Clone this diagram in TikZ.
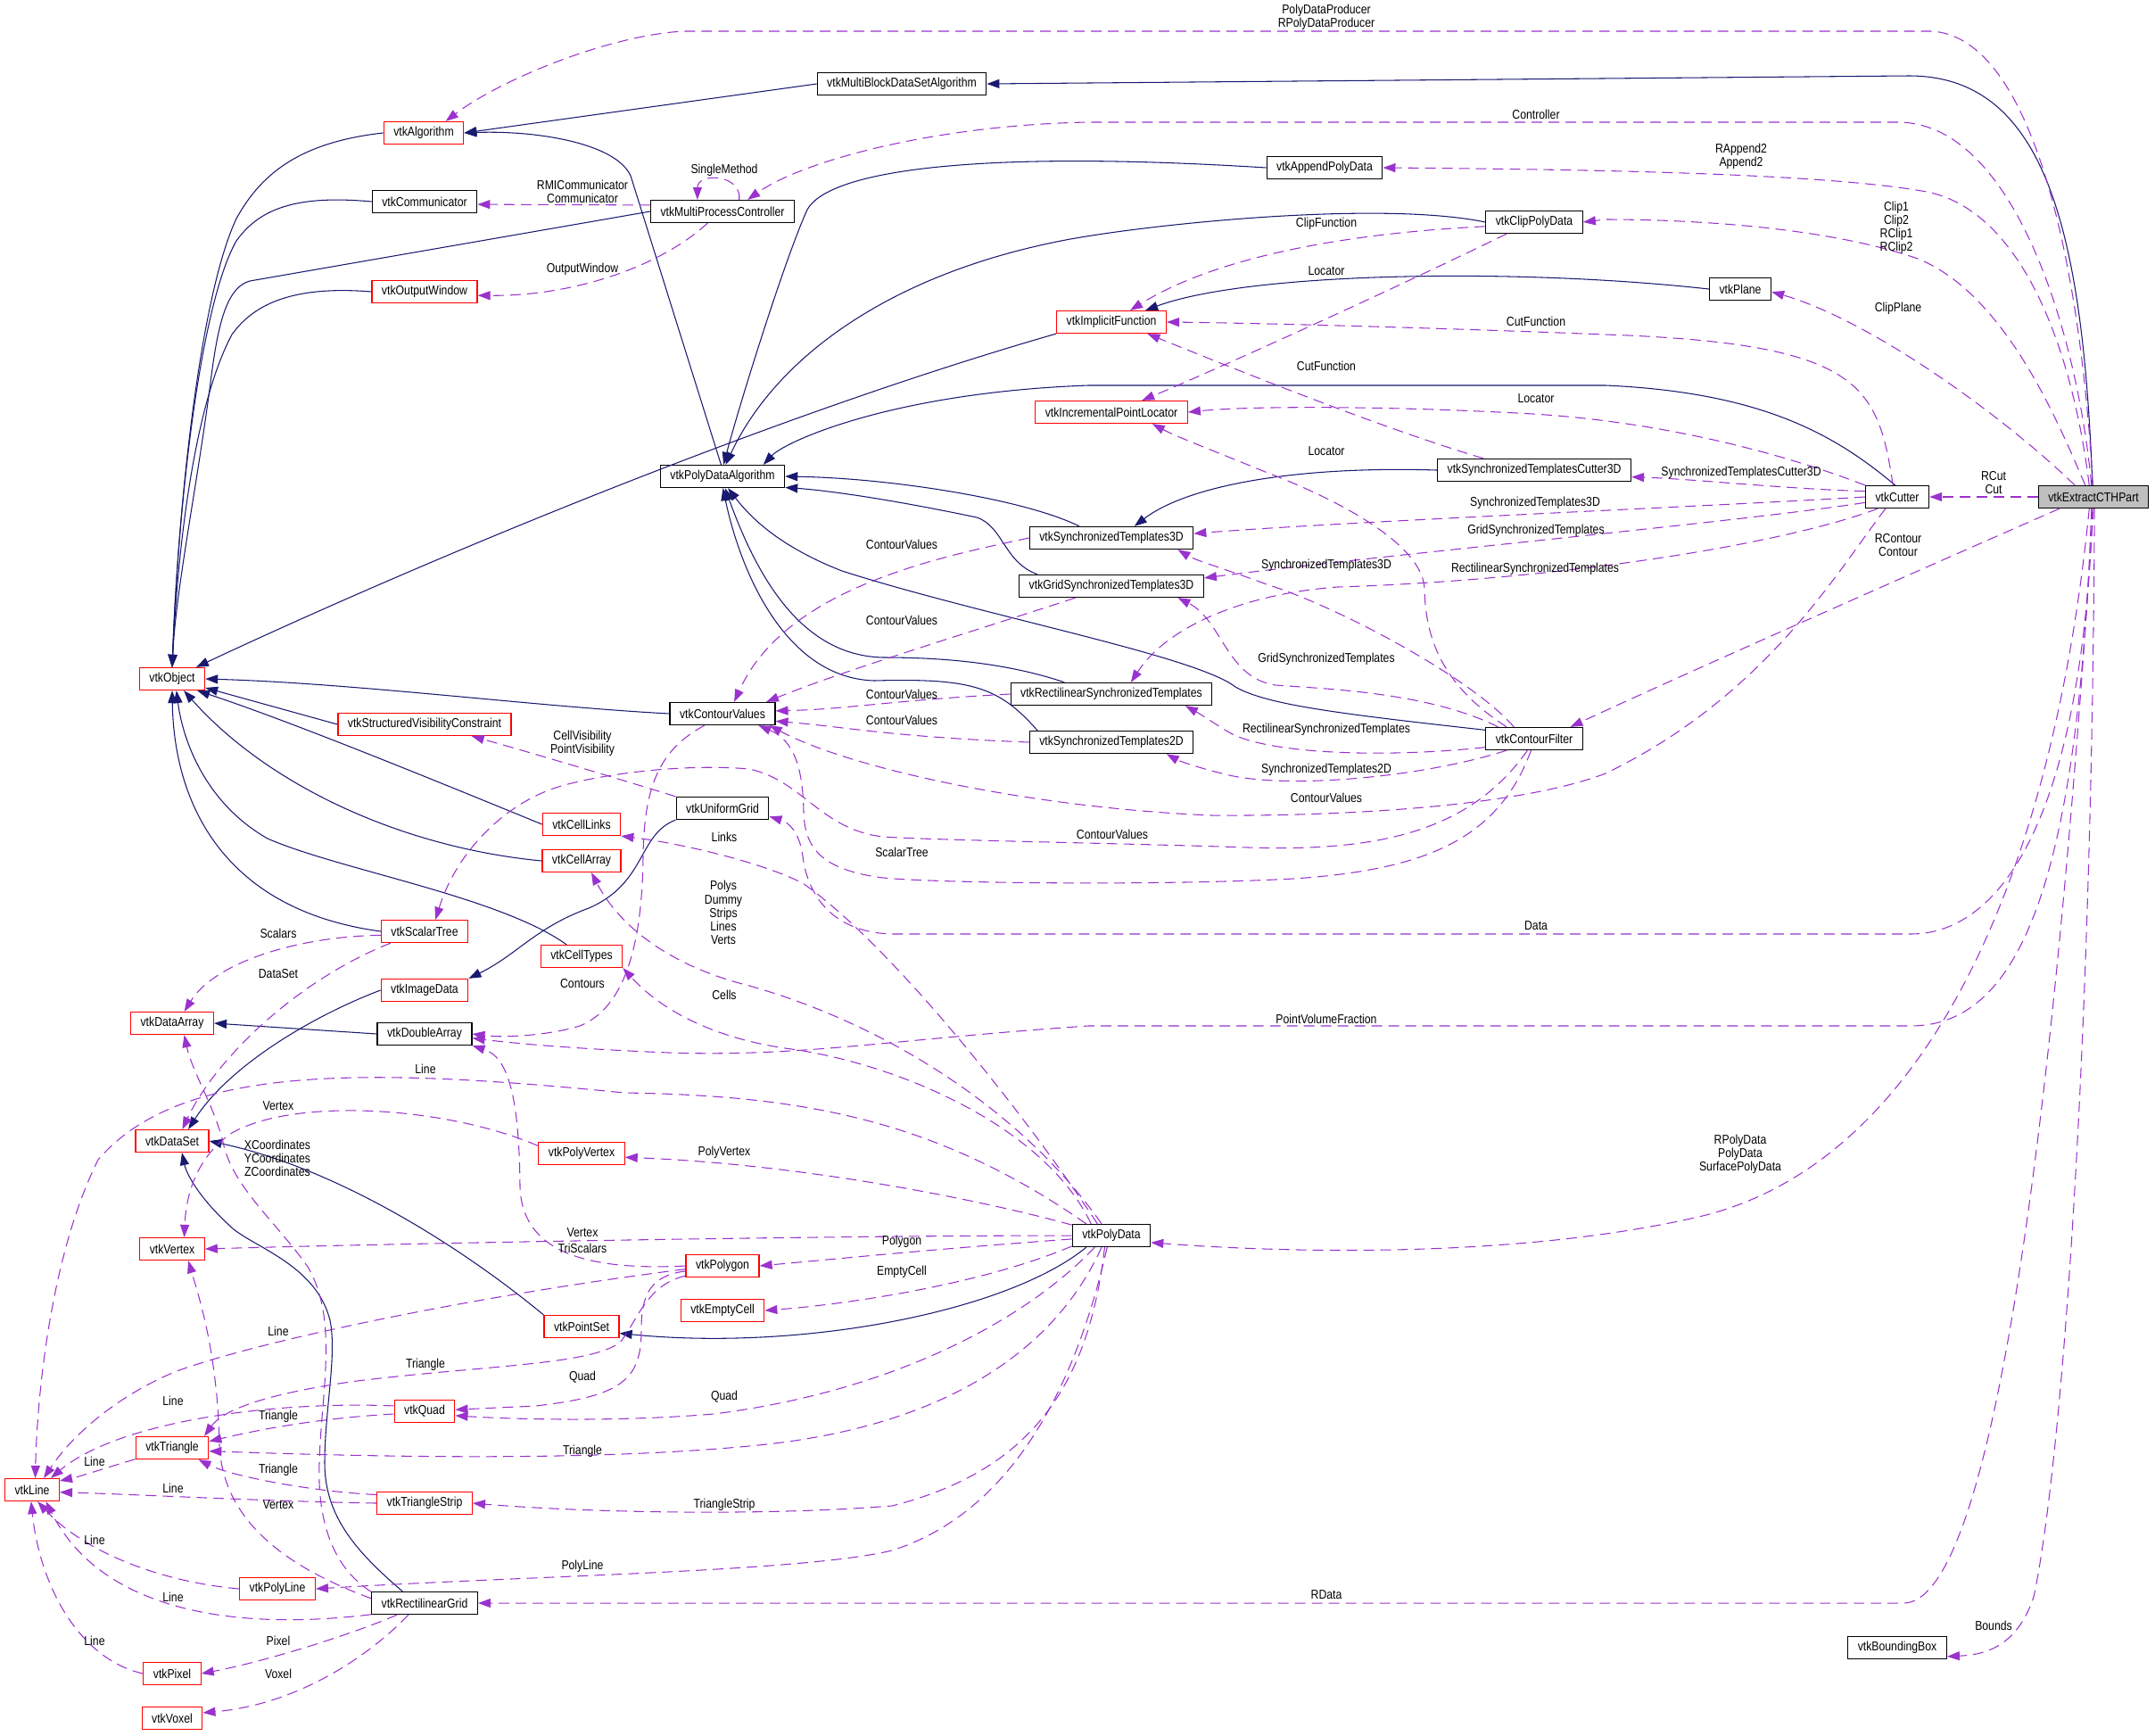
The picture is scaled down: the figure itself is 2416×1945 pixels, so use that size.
\documentclass[tikz,border=0pt]{standalone}
\usepackage{fontspec}
\setmainfont[FakeStretch=0.85]{Liberation Sans}
\usepackage{tikz}
\usetikzlibrary{arrows.meta}
\definecolor{inhblue}{HTML}{191970}
\definecolor{deppurple}{HTML}{9A32CD}
\definecolor{undoc}{HTML}{FF0000}
\definecolor{mainfill}{HTML}{BFBFBF}

\begin{document}
\begin{tikzpicture}[x=0.01cm,y=-0.01cm,every node/.style={font=\fontsize{4.1}{4.3}\selectfont}]
      \tikzstyle{cls} =[draw=black,line width=0.35pt,rectangle,minimum height=0.25cm,
                      inner xsep=0.11cm,inner ysep=0pt,fill=white];
      \tikzstyle{clsr}=[cls,draw=undoc];
      \tikzstyle{lbl} =[inner sep=0pt,align=center];
      \tikzstyle{inh} =[draw=inhblue,line width=0.3pt,-{Triangle[length=0.14cm,width=0.1cm]}];
      \tikzstyle{dep} =[draw=deppurple,line width=0.3pt,dash pattern=on 3.4pt off 2pt,
                      -{Triangle[length=0.14cm,width=0.1cm]}];
      \useasboundingbox (0,0) rectangle (2416,1945);

      \node[clsr] (alg)   at (475,149)  {vtkAlgorithm};
      \node[cls]  (mbdsa) at (1011,94)  {vtkMultiBlockDataSetAlgorithm};
      \node[cls]  (comm)  at (476,226)  {vtkCommunicator};
      \node[cls]  (mpc)   at (810,237)  {vtkMultiProcessController};
      \node[clsr] (ow)    at (476,327)  {vtkOutputWindow};
      \node[cls]  (apd)   at (1485,188) {vtkAppendPolyData};
      \node[cls]  (cpd)   at (1720,249) {vtkClipPolyData};
      \node[cls]  (plane) at (1951,324) {vtkPlane};
      \node[clsr] (impf)  at (1246,361) {vtkImplicitFunction};
      \node[clsr] (ipl)   at (1246,462) {vtkIncrementalPointLocator};
      \node[cls]  (pda)   at (810,534)  {vtkPolyDataAlgorithm};
      \node[cls]  (stc3d) at (1720,527) {vtkSynchronizedTemplatesCutter3D};
      \node[cls]  (cutter) at (2127,557) {vtkCutter};
      \node[cls,fill=mainfill] (cth) at (2347,557) {vtkExtractCTHPart};
      \node[cls]  (st3d)  at (1246,603) {vtkSynchronizedTemplates3D};
      \node[cls]  (gst3d) at (1246,657) {vtkGridSynchronizedTemplates3D};
      \node[cls]  (rst)   at (1246,778) {vtkRectilinearSynchronizedTemplates};
      \node[cls]  (st2d)  at (1246,832) {vtkSynchronizedTemplates2D};
      \node[cls]  (cv)    at (810,800)  {vtkContourValues};
      \node[cls]  (cf)    at (1720,828) {vtkContourFilter};
      \node[clsr] (obj)   at (193,761)  {vtkObject};
      \node[clsr] (svc)   at (476,812)  {vtkStructuredVisibilityConstraint};
      \node[cls]  (ug)    at (810,906)  {vtkUniformGrid};
      \node[clsr] (cl)    at (652,924)  {vtkCellLinks};
      \node[clsr] (ca)    at (652,965)  {vtkCellArray};
      \node[clsr] (sct)   at (476,1044) {vtkScalarTree};
      \node[clsr] (ctp)   at (652,1072) {vtkCellTypes};
      \node[clsr] (imd)   at (476,1110) {vtkImageData};
      \node[clsr] (darr)  at (193,1147) {vtkDataArray};
      \node[cls]  (dbl)   at (476,1159) {vtkDoubleArray};
      \node[clsr] (ds)    at (193,1279) {vtkDataSet};
      \node[clsr] (pvx)   at (652,1293) {vtkPolyVertex};
      \node[cls]  (pd)    at (1246,1385) {vtkPolyData};
      \node[clsr] (vtx)   at (193,1400) {vtkVertex};
      \node[clsr] (pgn)   at (810,1419) {vtkPolygon};
      \node[clsr] (ec)    at (810,1469) {vtkEmptyCell};
      \node[clsr] (ps)    at (652,1487) {vtkPointSet};
      \node[clsr] (quad)  at (476,1582) {vtkQuad};
      \node[clsr] (tri)   at (193,1623) {vtkTriangle};
      \node[clsr] (lin)   at (36,1670)  {vtkLine};
      \node[clsr] (tstr)  at (476,1685) {vtkTriangleStrip};
      \node[clsr] (pln)   at (311,1781) {vtkPolyLine};
      \node[cls]  (rg)    at (476,1797) {vtkRectilinearGrid};
      \node[clsr] (pix)   at (193,1876) {vtkPixel};
      \node[clsr] (vox)   at (193,1926) {vtkVoxel};
      \node[cls]  (bb)    at (2127,1847) {vtkBoundingBox};

      \draw[inh] (mbdsa.west) -- (alg.east);
      \draw[inh] (pda.97) -- (707,197) .. controls (690,160) and (600,146) .. (alg.east);
      \draw[inh] (alg.west) .. controls (330,160) and (290,200) .. (265,245) .. controls (225,330) and (200,560) .. (obj.north);
      \draw[inh] (comm.west) .. controls (330,218) and (290,235) .. (265,270) .. controls (225,340) and (200,560) .. (obj.north);
      \draw[inh] (mpc.west) -- (280,315) .. controls (255,322) and (245,360) .. (237,421) .. controls (222,540) and (197,660) .. (obj.north);
      \draw[inh] (ow.west) .. controls (330,320) and (285,340) .. (260,375) .. controls (220,450) and (200,600) .. (obj.north);
      \draw[inh] (impf.south west) .. controls (850,470) and (450,640) .. (obj.26);
      \draw[inh] (cv.west) .. controls (600,792) and (400,766) .. (obj.east);
      \draw[inh] (svc.west) -- (obj.-15);
      \draw[inh] (cl.west) .. controls (500,880) and (330,810) .. (obj.-25);
      \draw[inh] (ca.west) .. controls (450,950) and (300,880) .. (obj.-45);
      \draw[inh] (ctp.142) .. controls (560,1005) and (380,975) .. (300,940) .. controls (230,900) and (205,830) .. (obj.-70);
      \draw[inh] (sct.west) .. controls (250,1020) and (195,900) .. (obj.south);
      \draw[inh] (ug.south west) .. controls (715,935) and (725,990) .. (660,1018) .. controls (600,1040) and (580,1070) .. (imd.north east);
      \draw[inh] (imd.west) .. controls (360,1135) and (260,1190) .. (ds.36);
      \draw[inh] (dbl.west) -- (darr.east);
      \draw[inh] (ps.north west) .. controls (520,1400) and (380,1310) .. (ds.east);
      \draw[inh] (rg.152) .. controls (400,1740) and (364,1700) .. (364,1640) .. controls (364,1580) and (378,1520) .. (370,1480) .. controls (355,1420) and (290,1400) .. (262,1378) .. controls (230,1350) and (210,1320) .. (ds.-50);
      \draw[inh] (pd.-155) .. controls (1130,1470) and (900,1515) .. (ps.-10);
      \draw[inh] (stc3d.west) .. controls (1450,522) and (1330,545) .. (st3d.27);
      \draw[inh] (plane.west) .. controls (1700,300) and (1400,305) .. (impf.19);
      \draw[inh] (cth.95) .. controls (2335,250) and (2290,85) .. (2140,85) -- (mbdsa.east);
      \draw[inh] (apd.west) .. controls (1100,168) and (930,190) .. (905,235) .. controls (880,290) and (830,450) .. (pda.85);
      \draw[inh] (cpd.west) .. controls (1550,225) and (1300,250) .. (1200,268) .. controls (1000,305) and (870,400) .. (pda.75);
      \draw[inh] (cutter.100) .. controls (2060,490) and (1980,440) .. (1800,432) -- (1220,432) .. controls (1000,440) and (880,495) .. (pda.16);
      \draw[inh] (cf.170) .. controls (1500,800) and (1420,790) .. (1385,770) .. controls (1340,735) and (1100,690) .. (944,640) .. controls (880,615) and (845,585) .. (pda.-65);
      \draw[inh] (st3d.160) .. controls (1150,560) and (1000,536) .. (pda.east);
      \draw[inh] (gst3d.171) .. controls (1125,630) and (1125,590) .. (1095,580) .. controls (1000,560) and (930,550) .. (pda.-10);
      \draw[inh] (rst.166) .. controls (1120,740) and (1040,737) .. (990,737) .. controls (900,735) and (850,650) .. (pda.-78);
      \draw[inh] (st2d.171) .. controls (1120,770) and (1090,760) .. (980,763) .. controls (880,760) and (830,640) .. (pda.-88);

      \draw[dep] (cth.93) .. controls (2330,260) and (2270,40) .. (2165,35) -- (766,35) .. controls (680,40) and (560,90) .. (alg.28);
      \draw[dep] (cth.100) .. controls (2330,380) and (2260,140) .. (2130,137) -- (1220,137) .. controls (1050,140) and (900,180) .. (mpc.25);
      \draw[dep] (cth.110) .. controls (2322,380) and (2262,235) .. (2160,215) .. controls (2050,195) and (1800,190) .. (apd.east);
      \draw[dep] (cth.125) .. controls (2310,480) and (2250,330) .. (2150,290) .. controls (2050,255) and (1900,246) .. (1800,246) -- (cpd.east);
      \draw[dep] (cth.148) .. controls (2250,470) and (2100,360) .. (plane.-5);
      \draw[dep] (cth.west) -- (cutter.east);
      \draw[dep] (cth.-161) .. controls (2150,640) and (1900,750) .. (cf.18);
      \draw[dep] (cth.-95) .. controls (2335,900) and (2250,1047) .. (2142,1047) -- (1000,1047) .. controls (930,1045) and (905,1000) .. (900,960) .. controls (897,935) and (885,922) .. (ug.-10);
      \draw[dep] (cth.-100) .. controls (2330,1000) and (2260,1150) .. (2142,1150) -- (1220,1150) .. controls (1000,1165) and (900,1185) .. (750,1180) .. controls (650,1176) and (580,1170) .. (dbl.-5);
      \draw[dep] (cth.-110) .. controls (2300,1000) and (2150,1310) .. (1900,1365) .. controls (1700,1410) and (1450,1405) .. (pd.-10);
      \draw[dep] (cth.-90) .. controls (2300,1300) and (2230,1797) .. (2134,1797) -- (rg.east);
      \draw[dep] (cth.-85) .. controls (2345,1200) and (2310,1650) .. (2280,1790) .. controls (2260,1850) and (2220,1855) .. (bb.-10);

      \draw[dep] (cutter.110) .. controls (2105,430) and (2085,385) .. (1800,375) .. controls (1600,367) and (1400,362) .. (impf.east);
      \draw[dep] (cutter.north west) .. controls (1990,505) and (1850,470) .. (1700,463) .. controls (1550,455) and (1400,455) .. (ipl.east);
      \draw[dep] (cutter.170) .. controls (2000,548) and (1900,537) .. (stc3d.-4);
      \draw[dep] (cutter.west) .. controls (1950,566) and (1500,585) .. (st3d.3);
      \draw[dep] (cutter.-170) .. controls (1950,585) and (1550,622) .. (gst3d.5);
      \draw[dep] (cutter.-149) .. controls (2000,610) and (1750,650) .. (1500,658) .. controls (1400,665) and (1310,700) .. (rst.31);
      \draw[dep] (cutter.-135) .. controls (2060,640) and (1980,780) .. (1800,867) .. controls (1700,905) and (1500,915) .. (1358,914) .. controls (1150,905) and (950,860) .. (cv.-14);

      \draw[dep] (cf.157) .. controls (1620,770) and (1598,720) .. (1597,660) .. controls (1595,610) and (1500,560) .. (1421,530) .. controls (1360,505) and (1320,490) .. (ipl.-16);
      \draw[dep] (cf.150) .. controls (1650,760) and (1500,680) .. (1420,655) .. controls (1380,640) and (1340,628) .. (st3d.-10);
      \draw[dep] (cf.162) .. controls (1600,775) and (1480,772) .. (1430,768) .. controls (1375,760) and (1370,695) .. (gst3d.-10);
      \draw[dep] (cf.-170) .. controls (1550,850) and (1420,845) .. (1378,821) .. controls (1360,810) and (1345,800) .. (rst.-9);
      \draw[dep] (cf.-157) .. controls (1600,870) and (1450,885) .. (1378,869) .. controls (1340,860) and (1320,852) .. (st2d.-12);
      \draw[dep] (cf.-105) .. controls (1680,940) and (1600,975) .. (1450,985) .. controls (1300,993) and (1050,990) .. (990,984) .. controls (920,975) and (902,950) .. (901,910) .. controls (900,860) and (890,830) .. (cv.-18);
      \draw[dep] (cf.-120) .. controls (1650,930) and (1550,955) .. (1400,950) .. controls (1250,945) and (1050,942) .. (990,938) .. controls (920,930) and (900,875) .. (840,862) .. controls (760,855) and (660,870) .. (620,884) .. controls (560,905) and (510,960) .. (sct.47);

      \draw[dep] (cpd.-175) .. controls (1500,262) and (1360,290) .. (impf.32);
      \draw[dep] (cpd.-157) .. controls (1550,330) and (1350,420) .. (ipl.21);
      \draw[dep] (stc3d.167) .. controls (1550,480) and (1400,420) .. (impf.-18);
      \draw[dep] (st3d.west) .. controls (1050,625) and (880,660) .. (cv.45);
      \draw[dep] (gst3d.-162) .. controls (1100,705) and (950,750) .. (cv.15);
      \draw[dep] (rst.west) .. controls (1000,785) and (950,795) .. (cv.3);
      \draw[dep] (st2d.west) .. controls (1000,826) and (950,815) .. (cv.-8);

      \draw[dep] (mpc.175) -- (comm.-3);
      \draw[dep] (mpc.-142) .. controls (745,295) and (650,332) .. (ow.-4);
      \draw[dep] (mpc.35) .. controls (832,195) and (782,193) .. (mpc.155);

      \draw[dep] (cv.-147) .. controls (740,840) and (722,880) .. (721,960) .. controls (720,1060) and (700,1130) .. (650,1150) .. controls (610,1162) and (560,1163) .. (dbl.east);
      \draw[dep] (ug.north west) .. controls (700,875) and (600,845) .. (svc.-14);
      \draw[dep] (sct.-175) .. controls (330,1050) and (240,1080) .. (darr.44);
      \draw[dep] (sct.-161) .. controls (330,1100) and (240,1190) .. (ds.49);

      \draw[dep] (pd.140) .. controls (1150,1250) and (1000,1060) .. (900,990) .. controls (850,965) and (760,945) .. (cl.south east);
      \draw[dep] (pd.130) .. controls (1150,1250) and (1000,1150) .. (840,1105) .. controls (740,1080) and (690,1030) .. (ca.-50);
      \draw[dep] (pd.150) .. controls (1170,1260) and (1000,1190) .. (880,1175) .. controls (780,1160) and (730,1120) .. (ctp.south east);
      \draw[dep] (pd.west) .. controls (900,1385) and (400,1395) .. (vtx.east);
      \draw[dep] (pd.165) .. controls (1100,1345) and (900,1305) .. (pvx.-5);
      \draw[dep] (pd.155) .. controls (1050,1255) and (900,1228) .. (700,1225) .. controls (400,1195) and (200,1195) .. (110,1300) .. controls (60,1400) and (42,1550) .. (lin.75);
      \draw[dep] (pd.-175) .. controls (1050,1400) and (950,1410) .. (pgn.east);
      \draw[dep] (pd.-165) .. controls (1100,1440) and (950,1462) .. (ec.east);
      \draw[dep] (pd.-145) .. controls (1150,1480) and (1000,1560) .. (800,1585) .. controls (680,1595) and (560,1590) .. (quad.-8);
      \draw[dep] (pd.-130) .. controls (1180,1520) and (1050,1600) .. (850,1620) .. controls (700,1635) and (500,1636) .. (tri.-5);
      \draw[dep] (pd.-120) .. controls (1220,1560) and (1150,1650) .. (1000,1688) .. controls (850,1700) and (650,1695) .. (tstr.east);
      \draw[dep] (pd.-110) .. controls (1200,1580) and (1120,1700) .. (1000,1738) .. controls (900,1762) and (600,1766) .. (pln.east);

      \draw[dep] (pvx.170) .. controls (500,1240) and (330,1230) .. (260,1270) .. controls (215,1300) and (208,1350) .. (vtx.44);
      \draw[dep] (pgn.-175) .. controls (550,1450) and (300,1500) .. (198,1537) .. controls (130,1565) and (80,1610) .. (lin.45);
      \draw[dep] (pgn.-172) .. controls (730,1430) and (719,1450) .. (719,1490) .. controls (719,1545) and (700,1565) .. (600,1576) -- (quad.3);
      \draw[dep] (pgn.-165) .. controls (725,1440) and (715,1480) .. (695,1505) .. controls (660,1530) and (550,1530) .. (400,1548) .. controls (300,1562) and (250,1580) .. (tri.20);
      \draw[dep] (pgn.west) .. controls (650,1425) and (585,1400) .. (583,1330) .. controls (582,1230) and (570,1185) .. (dbl.south east);
      \draw[dep] (quad.170) .. controls (300,1570) and (130,1595) .. (lin.32);
      \draw[dep] (quad.-175) .. controls (350,1590) and (280,1605) .. (tri.10);
      \draw[dep] (tri.-163) .. controls (120,1645) and (90,1655) .. (lin.18);
      \draw[dep] (tstr.west) .. controls (300,1683) and (150,1675) .. (lin.-5);
      \draw[dep] (tstr.170) .. controls (350,1672) and (260,1655) .. (tri.-24);
      \draw[dep] (pln.west) .. controls (170,1772) and (90,1735) .. (lin.-65);
      \draw[dep] (pix.west) .. controls (90,1860) and (45,1780) .. (lin.-95);
      \draw[dep] (rg.-168) .. controls (250,1830) and (110,1800) .. (lin.-40);
      \draw[dep] (rg.175) .. controls (330,1760) and (250,1710) .. (246,1620) .. controls (244,1520) and (225,1460) .. (vtx.-36);
      \draw[dep] (rg.168) .. controls (370,1755) and (356,1700) .. (358,1640) .. controls (360,1560) and (380,1480) .. (345,1420) .. controls (310,1370) and (260,1330) .. (250,1280) .. controls (240,1240) and (215,1200) .. (darr.-44);
      \draw[dep] (rg.-157) .. controls (400,1830) and (300,1862) .. (pix.east);
      \draw[dep] (rg.-144) .. controls (420,1850) and (340,1910) .. (vox.10);

      \node[lbl] (lPdp)     at (1487,19)  {PolyDataProducer\\RPolyDataProducer};
      \node[lbl] (lCtrl)    at (1722,128) {Controller};
      \node[lbl] (lApp)     at (1952,175) {RAppend2\\Append2};
      \node[lbl] (lClip)    at (2126,255) {Clip1\\Clip2\\RClip1\\RClip2};
      \node[lbl] (lRmi)     at (653,215)  {RMICommunicator\\Communicator};
      \node[lbl] (lSingle)  at (812,191)  {SingleMethod};
      \node[lbl] (lOutWin)  at (653,302)  {OutputWindow};
      \node[lbl] (lClipFn)  at (1487,251) {ClipFunction};
      \node[lbl] (lLocA)    at (1487,304) {Locator};
      \node[lbl] (lClipPl)  at (2128,346) {ClipPlane};
      \node[lbl] (lCutFnA)  at (1722,360) {CutFunction};
      \node[lbl] (lCutFnB)  at (1487,410) {CutFunction};
      \node[lbl] (lLocB)    at (1722,447) {Locator};
      \node[lbl] (lLocC)    at (1487,506) {Locator};
      \node[lbl] (lStc)     at (1952,530) {SynchronizedTemplatesCutter3D};
      \node[lbl] (lCut)     at (2235,541) {RCut\\Cut};
      \node[lbl] (lSt3a)    at (1721,564) {SynchronizedTemplates3D};
      \node[lbl] (lGsta)    at (1722,595) {GridSynchronizedTemplates};
      \node[lbl] (lCont)    at (2128,611) {RContour\\Contour};
      \node[lbl] (lCvA)     at (1011,610) {ContourValues};
      \node[lbl] (lSt3b)    at (1487,634) {SynchronizedTemplates3D};
      \node[lbl] (lRsta)    at (1721,638) {RectilinearSynchronizedTemplates};
      \node[lbl] (lCvB)     at (1011,695) {ContourValues};
      \node[lbl] (lGstb)    at (1487,739) {GridSynchronizedTemplates};
      \node[lbl] (lCvC)     at (1011,778) {ContourValues};
      \node[lbl] (lCvD)     at (1011,807) {ContourValues};
      \node[lbl] (lRstb)    at (1487,818) {RectilinearSynchronizedTemplates};
      \node[lbl] (lVis)     at (653,833)  {CellVisibility\\PointVisibility};
      \node[lbl] (lSt2)     at (1487,863) {SynchronizedTemplates2D};
      \node[lbl] (lCvE)     at (1487,894) {ContourValues};
      \node[lbl] (lCvF)     at (1247,935) {ContourValues};
      \node[lbl] (lLinks)   at (812,938)  {Links};
      \node[lbl] (lScTree)  at (1011,955) {ScalarTree};
      \node[lbl] (lPolys)   at (811,1023) {Polys\\Dummy\\Strips\\Lines\\Verts};
      \node[lbl] (lData)    at (1722,1038) {Data};
      \node[lbl] (lScalars) at (312,1046) {Scalars};
      \node[lbl] (lDataSet) at (312,1092) {DataSet};
      \node[lbl] (lContours) at (653,1103) {Contours};
      \node[lbl] (lCells)   at (812,1115) {Cells};
      \node[lbl] (lPvf)     at (1487,1142) {PointVolumeFraction};
      \node[lbl] (lLineA)   at (477,1198) {Line};
      \node[lbl] (lVertA)   at (312,1240) {Vertex};
      \node[lbl] (lPoly)    at (1951,1294) {RPolyData\\PolyData\\SurfacePolyData};
      \node[lbl] (lCoord)   at (311,1298) {XCoordinates\\YCoordinates\\ZCoordinates};
      \node[lbl] (lPvx)     at (812,1292) {PolyVertex};
      \node[lbl] (lVertB)   at (653,1382) {Vertex};
      \node[lbl] (lTriSc)   at (653,1399) {TriScalars};
      \node[lbl] (lPgn)     at (1011,1392) {Polygon};
      \node[lbl] (lEmpty)   at (1011,1426) {EmptyCell};
      \node[lbl] (lLineB)   at (312,1492) {Line};
      \node[lbl] (lTriA)    at (477,1530) {Triangle};
      \node[lbl] (lQuadA)   at (653,1544) {Quad};
      \node[lbl] (lQuadB)   at (812,1566) {Quad};
      \node[lbl] (lLineC)   at (194,1570) {Line};
      \node[lbl] (lTriB)    at (312,1588) {Triangle};
      \node[lbl] (lTriC)    at (653,1627) {Triangle};
      \node[lbl] (lLineD)   at (106,1638) {Line};
      \node[lbl] (lTriD)    at (312,1648) {Triangle};
      \node[lbl] (lLineE)   at (194,1668) {Line};
      \node[lbl] (lVertC)   at (312,1687) {Vertex};
      \node[lbl] (lTstr)    at (812,1687) {TriangleStrip};
      \node[lbl] (lLineF)   at (106,1726) {Line};
      \node[lbl] (lPln)     at (653,1756) {PolyLine};
      \node[lbl] (lRData)   at (1487,1788) {RData};
      \node[lbl] (lLineG)   at (194,1790) {Line};
      \node[lbl] (lBounds)  at (2235,1822) {Bounds};
      \node[lbl] (lLineH)   at (106,1839) {Line};
      \node[lbl] (lPixel)   at (312,1839) {Pixel};
      \node[lbl] (lVoxel)   at (312,1876) {Voxel};
    \end{tikzpicture}
\end{document}
